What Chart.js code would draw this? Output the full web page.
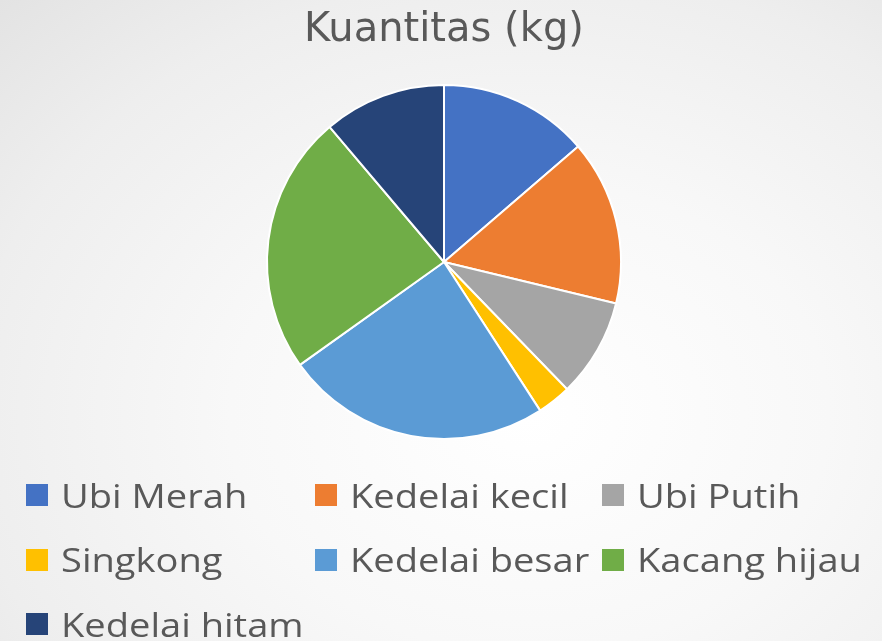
<!DOCTYPE html>
<html>
<head>
<meta charset="utf-8">
<script src="https://cdn.jsdelivr.net/npm/chart.js@4.4.1/dist/chart.umd.min.js"></script>
<style>
  html, body { margin: 0; padding: 0; }
  body {
    width: 882px; height: 641px; overflow: hidden; position: relative;
    background: radial-gradient(ellipse at 60% 65%, #ffffff 0%, #f8f8f8 40%, #eeeeee 75%, #e3e3e3 100%);
    font-family: "Open Sans", "Noto Sans", sans-serif;
  }
  #wrap { position: absolute; left: 0; top: 0; width: 882px; height: 641px; }
  #legend {
    position: absolute; left: 26px; top: 463px;
    display: grid; grid-template-columns: 289px 287px 280px;
    grid-auto-rows: 64.5px;
  }
  .item { display: flex; align-items: center; color: #595959; font-size: 32px; white-space: nowrap; }
  .box { width: 22px; height: 22px; margin-right: 13px; flex: none; }
  .txt { display: inline-block; transform: scaleX(1.19); transform-origin: left center; }
</style>
</head>
<body>
<div id="wrap"><canvas id="c" width="882" height="641"></canvas></div>
<div id="legend"></div>
<script>
const categories = ["Ubi Merah", "Kedelai kecil", "Ubi Putih", "Singkong", "Kedelai besar", "Kacang hijau", "Kedelai hitam"];
const quantities = [137, 151, 90, 31, 243, 237, 112];
const sliceColors = ["#4472C4", "#ED7D31", "#A5A5A5", "#FFC000", "#5B9BD5", "#70AD47", "#264478"];
const chartTitle = "Kuantitas (kg)";

const chart = new Chart(document.getElementById('c'), {
  type: 'pie',
  data: {
    labels: categories,
    datasets: [{
      data: quantities,
      backgroundColor: sliceColors,
      borderColor: '#ffffff',
      borderWidth: 2
    }]
  },
  options: {
    responsive: false,
    animation: false,
    layout: { padding: { left: 6, right: 0, top: 0, bottom: 201 } },
    plugins: {
      legend: { display: false },
      tooltip: { enabled: false },
      title: {
        display: true,
        text: chartTitle,
        color: '#595959',
        font: { family: '"DejaVu Sans", "Open Sans", sans-serif', size: 40, weight: 'normal', lineHeight: 1.2 },
        padding: { top: 7, bottom: 29 }
      }
    }
  }
});

const legendEl = document.getElementById('legend');
chart.data.labels.forEach((lab, i) => {
  const it = document.createElement('div');
  it.className = 'item';
  const b = document.createElement('span');
  b.className = 'box';
  b.style.background = chart.data.datasets[0].backgroundColor[i];
  it.appendChild(b);
  const t = document.createElement('span');
  t.className = 'txt';
  t.textContent = lab;
  it.appendChild(t);
  legendEl.appendChild(it);
});
</script>
</body>
</html>
